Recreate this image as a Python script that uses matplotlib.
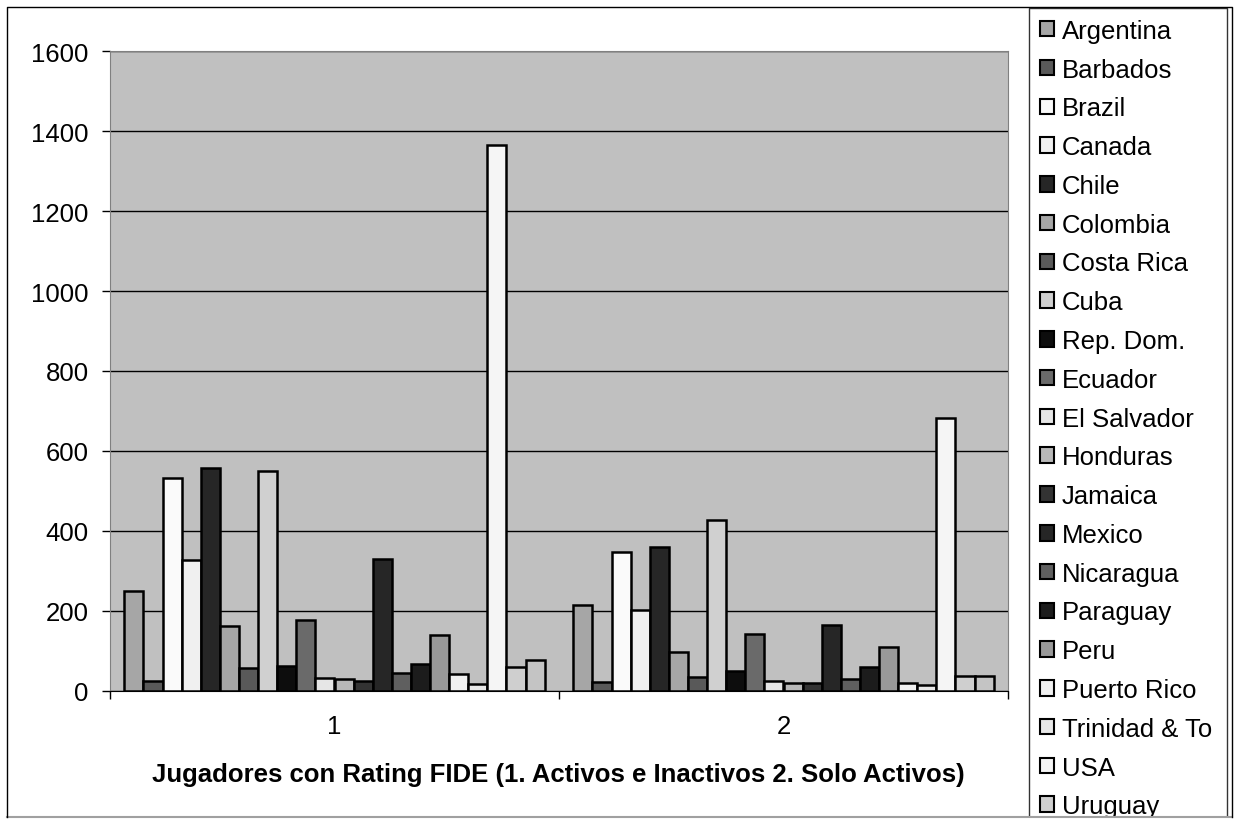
import matplotlib
matplotlib.use("Agg")
import matplotlib.pyplot as plt
from matplotlib.patches import Rectangle, Patch
from matplotlib.lines import Line2D
import numpy as np

plt.rcParams['font.family'] = ['Liberation Sans', 'DejaVu Sans']

countries = ["Argentina", "Barbados", "Brazil", "Canada", "Chile", "Colombia",
             "Costa Rica", "Cuba", "Rep. Dom.", "Ecuador", "El Salvador",
             "Honduras", "Jamaica", "Mexico", "Nicaragua", "Paraguay", "Peru",
             "Puerto Rico", "Trinidad & To", "USA", "Uruguay", "Venezuela"]
group_labels = ["1", "2"]
activos_inactivos = [249, 26, 532, 327, 557, 163, 57, 551, 62, 177, 33, 29, 25,
                     330, 44, 67, 141, 42, 17, 1365, 61, 77]
solo_activos = [215, 22, 348, 203, 361, 97, 35, 427, 50, 142, 26, 21, 20,
                166, 29, 59, 109, 19, 15, 682, 38, 38]
colors = ["#a6a6a6", "#595959", "#fafafa", "#f0f0f0", "#262626", "#a6a6a6",
          "#595959", "#d0d0d0", "#0d0d0d", "#6a6a6a", "#e6e6e6", "#b8b8b8",
          "#333333", "#262626", "#5f5f5f", "#1c1c1c", "#999999", "#f0f0f0",
          "#e8e8e8", "#f5f5f5", "#cfcfcf", "#c4c4c4"]
xlabel = "Jugadores con Rating FIDE (1. Activos e Inactivos 2. Solo Activos)"

W, H = 1234, 820
FS = 18.5
fig = plt.figure(figsize=(W / 100, H / 100), dpi=100)
ax = fig.add_axes([110 / W, 1 - 692 / H, (1008 - 110) / W, (692 - 52) / H])
ax.set_facecolor("#c0c0c0")

n = len(countries)
bw = 1.0 / (n + 1.5)
x = np.arange(len(group_labels))
data = np.array([activos_inactivos, solo_activos])
for i in range(n):
    ax.bar(x - n * bw / 2 + (i + 0.5) * bw, data[:, i], width=bw,
           color=colors[i], edgecolor="black", linewidth=1.8, zorder=3)

ax.set_xlim(-0.5, 1.5)
ax.set_ylim(0, 1600)
ax.set_yticks(np.arange(0, 1601, 200))
ax.yaxis.grid(True, color="black", linewidth=1.0, zorder=1)
ax.set_axisbelow(True)
ax.tick_params(axis="y", labelsize=FS, length=6, width=1, pad=9.4, direction="out")
ax.set_xticks(x)
ax.set_xticklabels(group_labels)
ax.set_xticks([-0.5, 0.5, 1.5], minor=True)
ax.tick_params(axis="x", which="major", length=0, labelsize=FS, pad=16.6)
ax.tick_params(axis="x", which="minor", length=6, width=1, direction="out")
for s in ["top", "right", "left"]:
    ax.spines[s].set_color("#808080")
ax.spines["bottom"].set_color("black")

fig.text(558.5 / W, 1 - 782 / H, xlabel, fontsize=FS, fontweight="bold",
         ha="center", va="baseline")

handles = [Patch(facecolor=c, edgecolor="black", linewidth=1.5) for c in colors]
leg = fig.legend(handles, countries, loc="upper left",
                 bbox_to_anchor=(1029 / W, 1 - 9 / H - 1.0, (1227 - 1029) / W, 1.0),
                 mode="expand", fontsize=FS,
                 frameon=True, fancybox=False, edgecolor="black",
                 handlelength=0.55, handleheight=0.55, handletextpad=0.3,
                 labelspacing=0.575, borderpad=0.42, borderaxespad=0)
leg.get_frame().set_linewidth(1.0)

# cover below outer frame bottom
fig.patches.append(Rectangle((0, 0), 1, 2 / H, transform=fig.transFigure,
                             facecolor="white", edgecolor="none", zorder=10))
fig.lines.append(Line2D([7 / W, 1232 / W], [1 - 818 / H] * 2,
                        transform=fig.transFigure, color="#a0a0a0", lw=1.5, zorder=11))
fig.lines.append(Line2D([7 / W, 7 / W, 1232 / W, 1232 / W],
                        [1 - 818 / H, 1 - 8 / H, 1 - 8 / H, 1 - 818 / H],
                        transform=fig.transFigure, color="black", lw=1.0, zorder=11))

fig.savefig("out.png", dpi=100)
